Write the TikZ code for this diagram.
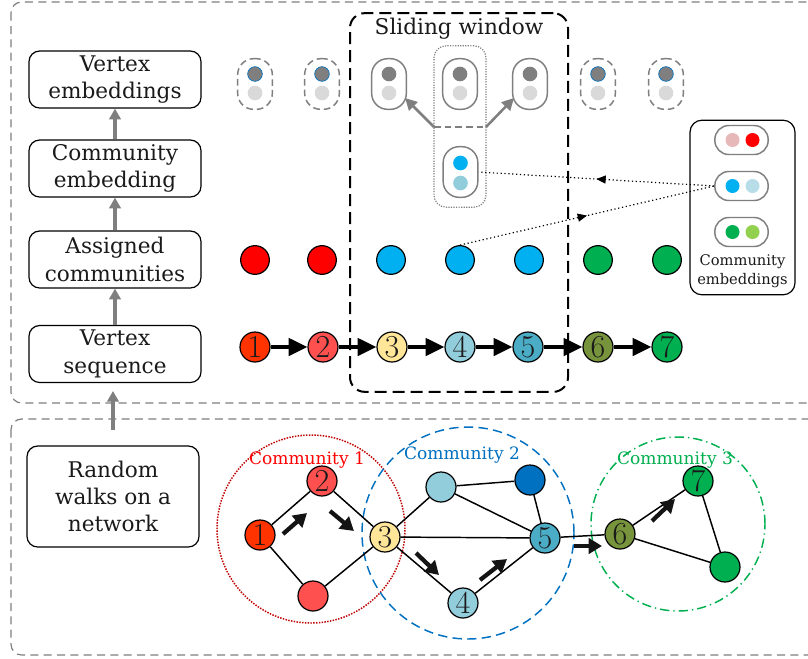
\documentclass[tikz,border=0pt]{standalone}
\usepackage{fontspec}
\setmainfont{DejaVu Serif}
\newfontfamily\lmfont{Latin Modern Roman}
\usetikzlibrary{arrows.meta,decorations.markings,calc}
\definecolor{c1}{HTML}{FF3300}
\definecolor{c2}{HTML}{FF5050}
\definecolor{c3}{HTML}{FFE699}
\definecolor{c4}{HTML}{92CDDC}
\definecolor{c5}{HTML}{4BACC6}
\definecolor{c6}{HTML}{77933C}
\definecolor{c7}{HTML}{00B050}
\definecolor{cred}{HTML}{FF0000}
\definecolor{ccyan}{HTML}{00B0F0}
\definecolor{cdblue}{HTML}{0070C0}
\definecolor{cpink}{HTML}{E6B8B7}
\definecolor{clblue}{HTML}{B7DEE8}
\definecolor{clgreen}{HTML}{92D050}
\definecolor{cdred}{HTML}{C00000}
\definecolor{dgray}{HTML}{7F7F7F}
\definecolor{lgray}{HTML}{D9D9D9}
\definecolor{txt}{HTML}{1A1A1A}
\tikzset{
  outerbox/.style={draw=dgray, line width=0.9pt, dash pattern=on 6pt off 4pt, rounded corners=8pt},
  labelbox/.style={draw=black, line width=0.9pt, rounded corners=8pt, minimum width=129pt, minimum height=42.75pt, align=center, inner sep=0pt, text=txt, font=\fontsize{16.2}{20.5}\selectfont},
  grayarrow/.style={draw=dgray, line width=2.4pt, -{Triangle[length=8pt,width=8.5pt]}},
  pillbase/.style={draw=dgray, line width=1.1pt, rounded corners=12pt, minimum width=26pt, minimum height=38pt, inner sep=0pt},
  solidpill/.style={pillbase},
  dashpill/.style={pillbase, dash pattern=on 5pt off 3pt},
  darkdot/.style={circle, fill=dgray, inner sep=0pt, minimum size=11pt},
  lightdot/.style={circle, fill=lgray, inner sep=0pt, minimum size=11pt},
  smalldot/.style={circle, inner sep=0pt, minimum size=10.5pt},
  vnode/.style={circle, draw=black, line width=0.9pt, inner sep=0pt, minimum size=22.5pt, text=txt, font=\lmfont\fontsize{24}{24}\selectfont},
  seqarrow/.style={line width=2.4pt, -{Triangle[length=14pt,width=13pt]}},
  walk/.style={line width=3.2pt, black!92, -{Triangle[length=10pt,width=11.5pt]}},
  edge/.style={line width=1.1pt},
  midarrow/.style={postaction={decorate}, decoration={markings, mark=at position 0.5 with {\arrow{Triangle[length=7pt,width=6pt]}}}},
  dotline/.style={dotted, line width=0.9pt, midarrow},
  comlabel/.style={font=\fontsize{12.8}{14}\selectfont, inner sep=0pt},
}
\begin{document}
\begin{tikzpicture}[x=0.75pt,y=-0.75pt]
\clip (0,0) rectangle (808,658);
\fill[white] (0,0) rectangle (808,658);
% outer boxes
\draw[outerbox] (11,2) rectangle (860,403);
\draw[outerbox] (11,419) rectangle (860,655);

% left label boxes
\node[labelbox] (ve) at (115,79.5) {Vertex\\embeddings};
\node[labelbox] (ce) at (115,168.5) {Community\\embedding};
\node[labelbox] (ac) at (115,259.5) {Assigned\\communities};
\node[labelbox] (vs) at (115,354) {Vertex\\sequence};
\node[labelbox, minimum height=75.75pt] (rw) at (113,496.5) {Random\\walks on a\\network};
\draw[grayarrow] (ce.north) -- (ve.south);
\draw[grayarrow] (ac.north) -- (ce.south);
\draw[grayarrow] (vs.north) -- (ac.south);
\coordinate (rwtop) at (113,430);
\coordinate (vsbot) at (113,391);
\draw[grayarrow] (rwtop) -- (vsbot);

% sliding window
\node[draw=black, line width=1.5pt, dash pattern=on 9pt off 4.5pt, rounded corners=11pt, minimum width=163.5pt, minimum height=284pt, inner sep=0pt] (sw) at (459,202.5) {};
\node[font=\fontsize{16.2}{18}\selectfont, text=txt] (swt) at (459,29) {Sliding window};

% center dotted box
\node[draw=dgray, densely dotted, line width=0.9pt, rounded corners=9pt, minimum width=39pt, minimum height=121pt, inner sep=0pt] (cbox) at (460,126.5) {};
\coordinate (cl) at (434,127);
\coordinate (cr) at (486,127);
\draw[dgray, line width=0.9pt, dash pattern=on 5pt off 3pt] (cl) -- (cr);

% top row pills
\foreach \i/\x in {1/255,2/322,6/598,7/666}{
  \node[dashpill] (p\i) at (\x,84) {};
  \node[darkdot, draw=cdblue, line width=0.5pt] (pd\i) at (\x,74) {};
  \node[lightdot] (pl\i) at (\x,93) {};
}
\foreach \i/\x in {3/389,4/460,5/530}{
  \node[solidpill] (p\i) at (\x,84) {};
  \node[darkdot] (pd\i) at (\x,74) {};
  \node[lightdot] (pl\i) at (\x,93) {};
}
\coordinate (t3) at (405,98);
\coordinate (t5) at (514,98);
\draw[dgray, line width=1.9pt, -{Triangle[length=9pt,width=9pt]}] (cl) -- (t3);
\draw[dgray, line width=1.9pt, -{Triangle[length=9pt,width=9pt]}] (cr) -- (t5);

% center lower pill
\node[solidpill] (cp) at (460.5,172) {};
\node[darkdot, fill=ccyan] (cpd) at (460.5,163) {};
\node[lightdot, fill=c4] (cpl) at (460.5,183) {};

% assigned communities
\foreach \i/\x/\c in {1/255/cred,2/322/cred,3/391/ccyan,4/460/ccyan,5/529/ccyan,6/598/c7,7/667/c7}{
  \node[circle, draw=black, line width=0.9pt, fill=\c, minimum size=21.5pt, inner sep=0pt] (a\i) at (\x,260) {};
}

% vertex sequence
\foreach \i/\x/\c in {1/255/c1,2/323/c2,3/392/c3,4/460/c4,5/528/c5,6/598/c6,7/667/c7}{
  \node[vnode, fill=\c] (s\i) at (\x,347) {\i};
}
\foreach \i [evaluate=\i as \j using int(\i+1)] in {1,...,6}{
  \draw[seqarrow] (s\i) -- (s\j);
}

% community embeddings box
\node[draw=black, line width=0.9pt, rounded corners=9pt, minimum width=78.75pt, minimum height=131pt, inner sep=0pt] (cebox) at (742.5,207.5) {};
\foreach \i/\y/\ca/\cb in {1/140/cpink/cred,2/186/ccyan/clblue,3/232/c7/clgreen}{
  \node[draw=dgray, line width=1.1pt, rounded corners=10.5pt, minimum width=40pt, minimum height=21.75pt, inner sep=0pt] (sp\i) at (741.5,\y) {};
  \node[smalldot, fill=\ca] (spa\i) at (732.5,\y) {};
  \node[smalldot, fill=\cb] (spb\i) at (752.5,\y) {};
}
\node[font=\fontsize{11}{14.5}\selectfont, align=center, text=txt, inner sep=0pt] (cetext) at (742.5,271.5) {Community\\embeddings};

% dotted arrows
\draw[dotline] (sp2.west) -- (cp.east);
\draw[dotline] (a4.north) -- (sp2.west);

% communities in network
\node[circle, draw=cdred, line width=1.1pt, densely dotted, minimum size=141pt, inner sep=0pt] (com1) at (311,529) {};
\node[circle, draw=cdblue, line width=1.1pt, dash pattern=on 7pt off 4pt, minimum size=159pt, inner sep=0pt] (com2) at (468,533) {};
\node[circle, draw=c7, line width=1.1pt, dash pattern=on 7pt off 3pt on 1pt off 3pt, minimum size=130.5pt, inner sep=0pt] (com3) at (678,524) {};
\node[comlabel, text=cred] (l1) at (307,460) {Community 1};
\node[comlabel, text=cdblue] (l2) at (462,455) {Community 2};
\node[comlabel, text=c7] (l3) at (675,460) {Community 3};

% network nodes
\node[vnode, fill=c1] (n1) at (260,535) {1};
\node[vnode, fill=c2] (n2) at (322,481) {2};
\node[vnode, fill=c2] (nb) at (313,596) {};
\node[vnode, fill=c3] (n3) at (385,537) {3};
\node[vnode, fill=c4] (nt) at (441,487) {};
\node[vnode, fill=cdblue] (nd) at (530,480) {};
\node[vnode, fill=c5] (n5) at (545,538) {5};
\node[vnode, fill=c4] (n4) at (463,603) {4};
\node[vnode, fill=c6] (n6) at (620,534) {6};
\node[vnode, fill=c7] (n7) at (698,481) {7};
\node[vnode, fill=c7] (ng) at (725,567) {};
\foreach \a/\b in {n1/n2,n1/nb,n2/n3,nb/n3,n3/nt,n3/n5,n3/n4,nt/nd,nt/n5,nd/n5,n4/n5,n5/n6,n6/n7,n6/ng,n7/ng}{
  \draw[edge] (\a) -- (\b);
}

% walk arrows
\coordinate (w1a) at (283,534); \coordinate (w1b) at (307,513);
\coordinate (w2a) at (330,511); \coordinate (w2b) at (354,531);
\coordinate (w3a) at (416,553); \coordinate (w3b) at (439,575);
\coordinate (w4a) at (480,580); \coordinate (w4b) at (507,559);
\coordinate (w5a) at (574,546); \coordinate (w5b) at (602,546);
\coordinate (w6a) at (652,521); \coordinate (w6b) at (675,499);
\foreach \k in {1,...,6}{
  \draw[walk] (w\k a) -- (w\k b);
}
\end{tikzpicture}
\end{document}
